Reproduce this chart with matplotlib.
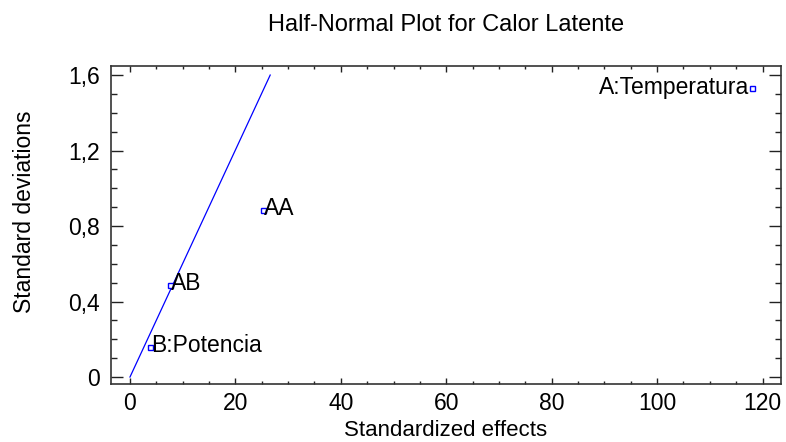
import matplotlib
matplotlib.use("Agg")
import matplotlib.pyplot as plt
from matplotlib.ticker import MultipleLocator, FuncFormatter

plt.rcParams['font.family'] = ['Liberation Sans', 'DejaVu Sans']

effects = ["B:Potencia", "AB", "AA", "A:Temperatura"]
std_effects = [3.8, 7.6, 25.2, 118.0]
std_devs = [0.157, 0.489, 0.887, 1.534]
line_x = [0.0, 26.6]
line_y = [0.0, 1.6]

FS = 16.5
fig = plt.figure(figsize=(7.86, 4.42), dpi=100)
ax = fig.add_axes([111/786, 1-384/442, (781-111)/786, (384-66)/442])

blue = (0, 0, 1)
ax.plot(line_x, line_y, color=blue, lw=0.9)
ax.plot(std_effects, std_devs, ls='none', marker='s', ms=3.6, mfc='white', mec=blue, mew=1.0)

for name, x, y in zip(effects, std_effects, std_devs):
    if name == "A:Temperatura":
        ax.annotate(name, (x, y), xytext=(-2, 0), textcoords='offset points',
                    ha='right', va='center', fontsize=FS)
    else:
        ax.annotate(name, (x, y), xytext=(1, 1), textcoords='offset points',
                    ha='left', va='center', fontsize=FS)

ax.set_xlim(-3.6, 123.5)
ax.set_ylim(-0.037, 1.648)
ax.xaxis.set_major_locator(MultipleLocator(20))
ax.xaxis.set_minor_locator(MultipleLocator(5))
ax.yaxis.set_major_locator(MultipleLocator(0.4))
ax.yaxis.set_minor_locator(MultipleLocator(0.1))
ax.yaxis.set_major_formatter(FuncFormatter(lambda v, p: ("0" if abs(v) < 1e-9 else f"{v:.1f}".replace(".", ","))))

ax.tick_params(axis='both', which='both', direction='in', top=True, right=True, colors='#222222', labelcolor='black', labelsize=FS)
ax.tick_params(axis='y', which='major', length=8.5, width=1.0, pad=8)
ax.tick_params(axis='y', which='minor', length=4.3, width=1.0)
ax.tick_params(axis='x', which='major', length=4.5, width=1.0, pad=6)
ax.tick_params(axis='x', which='minor', length=2.2, width=1.0)
for s in ax.spines.values():
    s.set_color('#333333')
    s.set_linewidth(1.2)

ax.set_xlabel("Standardized effects", fontsize=16)
ax.xaxis.set_label_coords(446/786, 1/442, transform=fig.transFigure)
ax.xaxis.label.set_va('bottom')
ax.set_ylabel("Standard deviations", fontsize=FS)
ax.yaxis.set_label_coords(25/786, 1-212/442, transform=fig.transFigure)
ax.yaxis.label.set_va('center')
fig.text(446/786, 1-25/442, "Half-Normal Plot for Calor Latente", ha='center', va='center', fontsize=17)

fig.savefig("out.png", dpi=100)
